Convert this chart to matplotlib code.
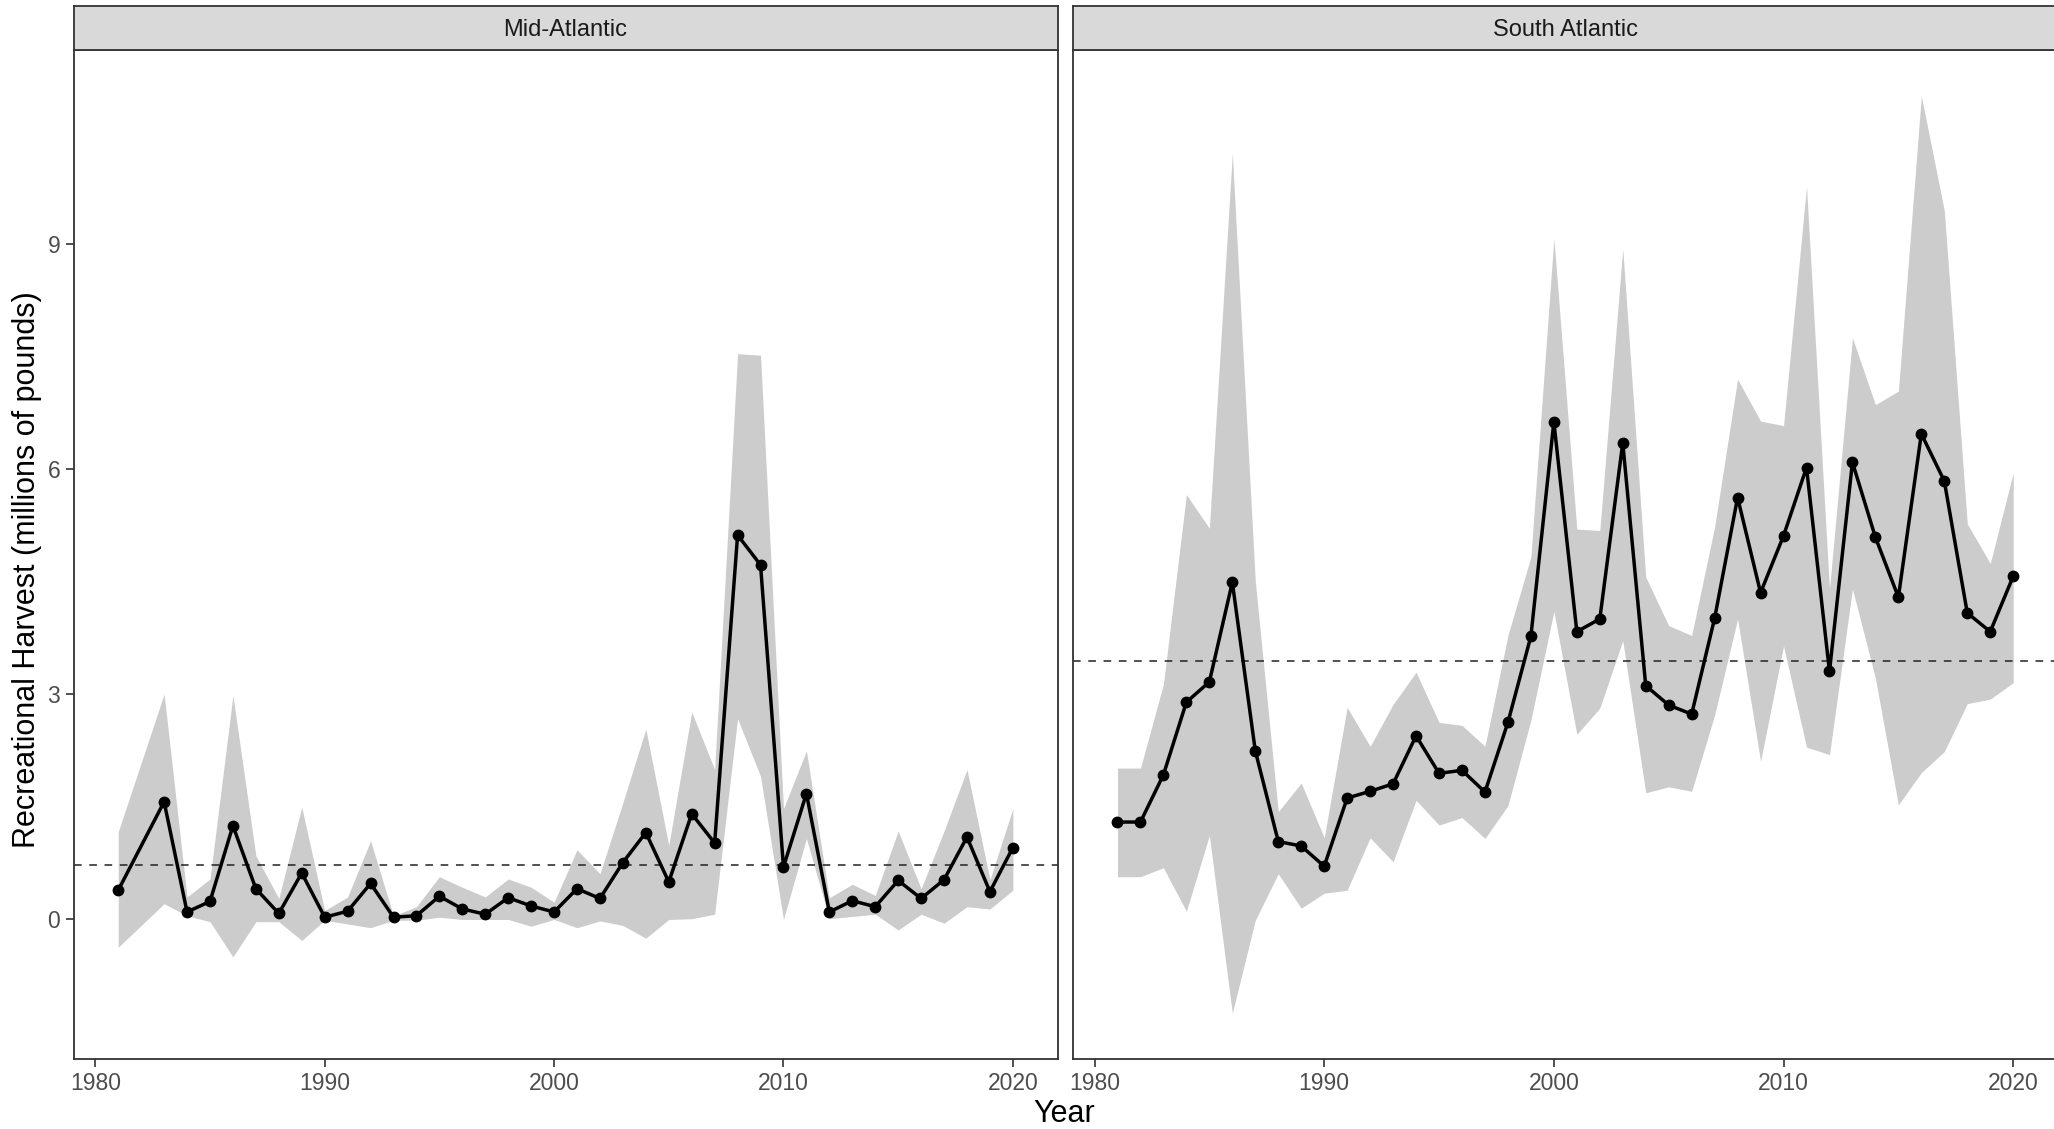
import numpy as np
import matplotlib
matplotlib.use('Agg')
from matplotlib import pyplot as plt

# Mid-Atlantic (no 1982 estimate)
years_mid = [1981, 1983, 1984, 1985, 1986, 1987, 1988, 1989, 1990, 1991, 1992, 1993,
             1994, 1995, 1996, 1997, 1998, 1999, 2000, 2001, 2002, 2003, 2004, 2005,
             2006, 2007, 2008, 2009, 2010, 2011, 2012, 2013, 2014, 2015, 2016, 2017,
             2018, 2019, 2020]
harvest_mid = [0.38, 1.56, 0.09, 0.23, 1.24, 0.40, 0.07, 0.61, 0.02, 0.10, 0.47, 0.02,
               0.04, 0.30, 0.13, 0.06, 0.28, 0.17, 0.09, 0.40, 0.27, 0.75, 1.15, 0.49,
               1.40, 1.01, 5.12, 4.72, 0.69, 1.67, 0.09, 0.24, 0.16, 0.51, 0.27, 0.52,
               1.09, 0.36, 0.95]
upper_mid = [1.16, 3.00, 0.29, 0.53, 2.98, 0.84, 0.27, 1.49, 0.11, 0.29, 1.04, 0.04,
             0.16, 0.56, 0.42, 0.29, 0.53, 0.42, 0.22, 0.92, 0.60, 1.55, 2.53, 0.98,
             2.76, 1.99, 7.54, 7.52, 1.47, 2.24, 0.28, 0.46, 0.31, 1.17, 0.40, 1.17,
             1.99, 0.52, 1.47]
lower_mid = [-0.38, 0.20, 0.04, -0.04, -0.51, -0.04, -0.04, -0.29, -0.02, -0.07, -0.12, -0.02,
             -0.02, 0.02, -0.01, -0.01, -0.01, -0.10, -0.01, -0.12, -0.03, -0.09, -0.26, -0.01,
             0.00, 0.06, 2.67, 1.90, -0.01, 1.07, 0.00, 0.03, 0.06, -0.15, 0.06, -0.06,
             0.16, 0.13, 0.38]
mean_mid = 0.72

# South Atlantic
years_south = [1981, 1982, 1983, 1984, 1985, 1986, 1987, 1988, 1989, 1990, 1991, 1992,
               1993, 1994, 1995, 1996, 1997, 1998, 1999, 2000, 2001, 2002, 2003, 2004,
               2005, 2006, 2007, 2008, 2009, 2010, 2011, 2012, 2013, 2014, 2015, 2016,
               2017, 2018, 2019, 2020]
harvest_south = [1.29, 1.29, 1.92, 2.89, 3.16, 4.49, 2.24, 1.03, 0.97, 0.70, 1.61, 1.70,
                 1.80, 2.44, 1.94, 1.98, 1.69, 2.62, 3.77, 6.63, 3.83, 4.00, 6.35, 3.11,
                 2.85, 2.73, 4.01, 5.62, 4.35, 5.11, 6.02, 3.30, 6.09, 5.09, 4.29, 6.47,
                 5.84, 4.08, 3.83, 4.57]
upper_south = [2.01, 2.01, 3.13, 5.66, 5.21, 10.21, 4.50, 1.43, 1.81, 1.08, 2.82, 2.30,
               2.86, 3.29, 2.62, 2.58, 2.30, 3.78, 4.83, 9.08, 5.20, 5.18, 8.94, 4.56,
               3.91, 3.78, 5.23, 7.20, 6.64, 6.58, 9.77, 4.40, 7.75, 6.86, 7.04, 10.98,
               9.45, 5.27, 4.74, 5.95]
lower_south = [0.56, 0.56, 0.68, 0.10, 1.11, -1.26, -0.02, 0.60, 0.14, 0.34, 0.38, 1.08,
               0.76, 1.58, 1.25, 1.35, 1.07, 1.51, 2.65, 4.10, 2.46, 2.81, 3.71, 1.68,
               1.76, 1.70, 2.72, 4.00, 2.10, 3.64, 2.29, 2.19, 4.40, 3.21, 1.52, 1.95,
               2.23, 2.87, 2.93, 3.15]
mean_south = 3.44

panel_names = ['Mid-Atlantic', 'South Atlantic']
y_ticks = [0, 3, 6, 9]
x_ticks = [1980, 1990, 2000, 2010, 2020]

plt.rcParams['font.family'] = ['Liberation Sans', 'DejaVu Sans']

W, H = 2054, 1129
fig = plt.figure(figsize=(W / 100, H / 100), dpi=100)

# panel boxes in pixels (left, right), shared top/bottom
top_px, bot_px = 50, 1059
strip_top = 6
boxes = [(73.5, 1057.6), (1072.7, 2058)]

# ggplot-like 5% expansion
all_low = min(min(lower_mid), min(lower_south))
all_high = max(max(upper_mid), max(upper_south))
pad_y = 0.05 * (all_high - all_low)
ylim = (all_low - pad_y, all_high + pad_y)
all_years = years_mid + years_south
pad_x = 0.05 * (max(all_years) - min(all_years))
xlim = (min(all_years) - pad_x, max(all_years) + pad_x)

datasets = [
    (years_mid, harvest_mid, upper_mid, lower_mid, mean_mid),
    (years_south, harvest_south, upper_south, lower_south, mean_south),
]

edge = '#333333'
for i, (name, box, data) in enumerate(zip(panel_names, boxes, datasets)):
    yrs, vals, up, lo, mn = data
    l, r = box
    ax = fig.add_axes([l / W, 1 - bot_px / H, (r - l) / W, (bot_px - top_px) / H])
    ax.fill_between(yrs, lo, up, color='#CCCCCC', linewidth=0, zorder=1)
    ax.axhline(mn, color='#222222', linewidth=1.1, dashes=(5, 5), zorder=2)
    ax.plot(yrs, vals, color='black', linewidth=2.5, marker='o', markersize=7.5, zorder=3)
    ax.set_xlim(xlim)
    ax.set_ylim(ylim)
    ax.set_xticks(x_ticks)
    ax.set_yticks(y_ticks)
    for s in ax.spines.values():
        s.set_color(edge)
        s.set_linewidth(1.3)
    ax.tick_params(axis='both', colors=edge, length=5.5, width=1.2,
                   labelsize=16.5, labelcolor='#4D4D4D', pad=4)
    if i > 0:
        ax.tick_params(axis='y', left=False, labelleft=False)

    # facet strip
    sax = fig.add_axes([l / W, 1 - top_px / H, (r - l) / W, (top_px - strip_top) / H])
    sax.set_facecolor('#D9D9D9')
    sax.set_xticks([])
    sax.set_yticks([])
    for s in sax.spines.values():
        s.set_color(edge)
        s.set_linewidth(1.3)
    sax.text(0.5, 0.45, name, transform=sax.transAxes, ha='center', va='center',
             fontsize=17, color='#1A1A1A')

fig.text(27 / W, 1 - 570 / H, 'Recreational Harvest (millions of pounds)',
         rotation=90, ha='center', va='center', fontsize=22)
fig.text(1064 / W, 1 - 1114 / H, 'Year', ha='center', va='center', fontsize=22)

fig.savefig('out.png', dpi=100)
